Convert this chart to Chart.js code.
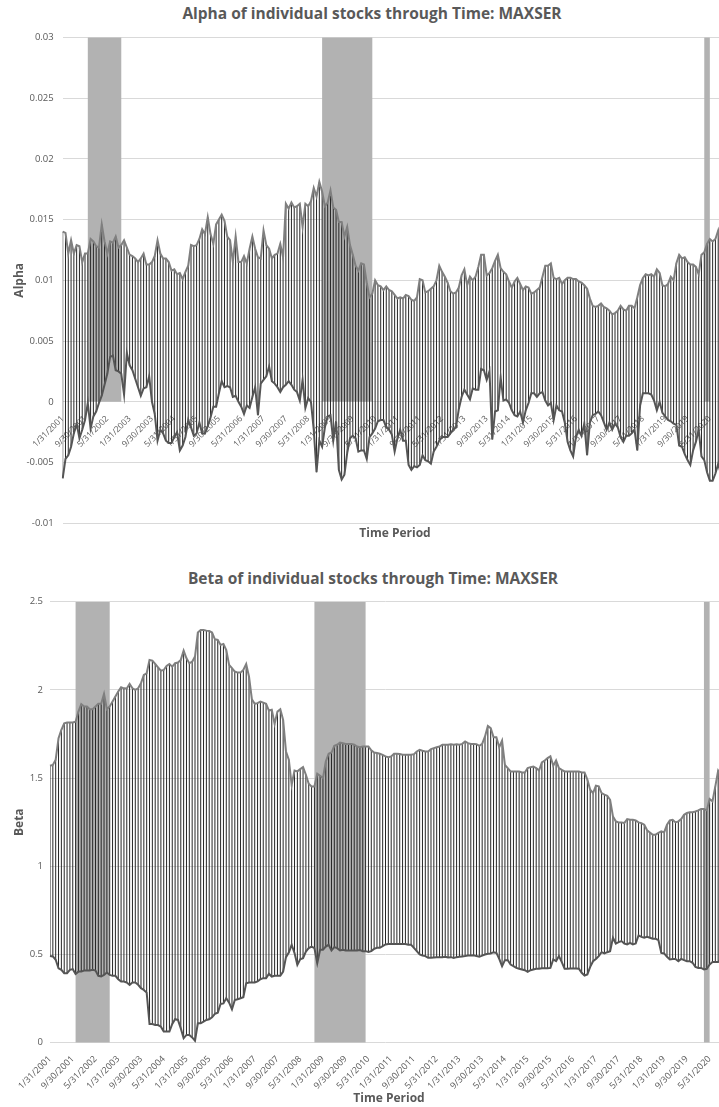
<!DOCTYPE html>
<html>
<head>
<meta charset="utf-8">
<script src="https://cdn.jsdelivr.net/npm/chart.js@4"></script>
<style>
  body { margin: 0; background: #fff; overflow: hidden; width: 719px; height: 1107px; position: relative; font-family: "Open Sans", sans-serif; }
  canvas { position: absolute; left: 0; }
  .lbl { position: absolute; text-align: center; color: #595959; font-weight: bold; white-space: nowrap; }
  .title { font-size: 15.5px; line-height: 20px; width: 500px; }
  .xtitle { font-size: 12px; line-height: 16px; width: 200px; }
</style>
</head>
<body>
<div class="lbl title" style="left:122px; top:3px">Alpha of individual stocks through Time: MAXSER</div>
<canvas id="alphaChart" width="722" height="545" style="top:0"></canvas>
<div class="lbl xtitle" style="left:295px; top:525px">Time Period</div>

<div class="lbl title" style="left:123px; top:568px">Beta of individual stocks through Time: MAXSER</div>
<canvas id="betaChart" width="722" height="559" style="top:548px"></canvas>
<div class="lbl xtitle" style="left:289px; top:1090px">Time Period</div>

<script>
// labelled ticks on the time axis (every 8th month)
const tickLabels = ['1/31/2001', '9/30/2001', '5/31/2002', '1/31/2003', '9/30/2003', '5/31/2004',
    '1/31/2005', '9/30/2005', '5/31/2006', '1/31/2007', '9/30/2007', '5/31/2008', '1/31/2009',
    '9/30/2009', '5/31/2010', '1/31/2011', '9/30/2011', '5/31/2012', '1/31/2013', '9/30/2013',
    '5/31/2014', '1/31/2015', '9/30/2015', '5/31/2016', '1/31/2017', '9/30/2017', '5/31/2018',
    '1/31/2019', '9/30/2019', '5/31/2020']

// recession periods as [first month index, month index after the end]
const recessions = [[9, 21], [93, 111], [230, 232]]

// highest / lowest alpha across the individual stocks, monthly from Jan 2001
const alphaHigh = [
    .0140, .0139, .0122, .0133, .0122, .0129, .0128, .0115, .0122, .0122,
    .0134, .0132, .0128, .0127, .0146, .0132, .0122, .0132, .0131, .0136,
    .0127, .0129, .0133, .0127, .0121, .0120, .0118, .0115, .0118, .0122,
    .0113, .0113, .0115, .0120, .0133, .0122, .0118, .0118, .0115, .0108,
    .0109, .0105, .0106, .0101, .0107, .0112, .0129, .0128, .0129, .0134,
    .0142, .0138, .0152, .0138, .0130, .0146, .0150, .0154, .0149, .0136,
    .0133, .0115, .0136, .0115, .0115, .0120, .0114, .0126, .0136, .0126,
    .0119, .0118, .0141, .0129, .0126, .0118, .0121, .0122, .0130, .0119,
    .0163, .0159, .0164, .0160, .0161, .0163, .0144, .0163, .0161, .0165,
    .0176, .0169, .0181, .0173, .0161, .0164, .0174, .0160, .0158, .0148,
    .0148, .0136, .0144, .0129, .0121, .0112, .0108, .0114, .0113, .0098,
    .0086, .0089, .0100, .0096, .0095, .0092, .0095, .0092, .0091, .0088,
    .0085, .0086, .0085, .0088, .0087, .0084, .0083, .0086, .0101, .0100,
    .0090, .0091, .0093, .0095, .0100, .0112, .0107, .0103, .0098, .0091,
    .0089, .0090, .0094, .0104, .0109, .0096, .0103, .0100, .0103, .0111,
    .0121, .0121, .0104, .0106, .0110, .0116, .0121, .0110, .0107, .0105,
    .0099, .0094, .0099, .0102, .0097, .0092, .0095, .0094, .0089, .0090,
    .0092, .0094, .0103, .0112, .0112, .0114, .0102, .0101, .0102, .0097,
    .0100, .0102, .0102, .0101, .0101, .0099, .0098, .0096, .0093, .0085,
    .0079, .0078, .0079, .0081, .0078, .0077, .0075, .0072, .0073, .0075,
    .0079, .0076, .0075, .0079, .0079, .0077, .0086, .0096, .0102, .0105,
    .0104, .0105, .0103, .0109, .0106, .0096, .0095, .0097, .0103, .0100,
    .0114, .0121, .0118, .0119, .0115, .0113, .0113, .0111, .0105, .0121,
    .0123, .0130, .0134, .0132, .0134, .0141, .0129]

const alphaLow = [
    -.0063, -.0047, -.0044, -.0037, -.0026, -.0018, -.0030, -.0023, -.0015, -.0001,
    -.0022, -.0012, -.0008, -.0001, .0005, .0014, .0023, .0037, .0038, .0026,
    .0025, .0023, .0006, .0040, .0030, .0026, .0019, .0012, .0005, .0011,
    .0012, .0021, .0000, -.0010, -.0032, -.0023, -.0026, -.0032, -.0034, -.0034,
    -.0029, -.0025, -.0040, -.0036, -.0029, -.0015, -.0021, -.0028, -.0026, -.0017,
    -.0026, -.0026, -.0020, -.0013, -.0004, -.0004, .0007, .0017, .0012, .0013,
    .0012, .0004, .0005, .0000, -.0004, -.0010, -.0003, -.0005, .0004, .0012,
    -.0011, .0015, .0018, .0021, .0029, .0017, .0015, .0012, .0008, .0012,
    .0014, .0017, .0014, .0010, .0008, .0001, .0018, -.0005, .0003, .0000,
    -.0023, -.0058, -.0032, -.0037, -.0021, -.0012, -.0011, -.0032, -.0016, -.0056,
    -.0064, -.0060, -.0042, -.0030, -.0028, -.0030, -.0041, -.0040, -.0040, -.0047,
    -.0029, -.0026, -.0022, -.0016, -.0015, -.0015, -.0021, -.0023, -.0027, -.0041,
    -.0030, -.0023, -.0032, -.0032, -.0052, -.0056, -.0053, -.0054, -.0052, -.0044,
    -.0048, -.0049, -.0051, -.0041, -.0037, -.0032, -.0029, -.0029, -.0029, -.0026,
    -.0023, -.0021, -.0006, .0004, .0010, .0006, .0002, .0011, .0010, .0010,
    .0027, .0026, .0018, .0025, -.0031, -.0008, -.0007, .0020, .0001, .0002,
    -.0001, -.0007, -.0011, -.0012, -.0008, -.0017, -.0007, -.0001, .0007, .0007,
    .0004, .0007, .0008, .0001, -.0003, -.0001, -.0015, -.0003, -.0007, -.0008,
    -.0017, -.0033, -.0040, -.0045, -.0029, -.0023, -.0028, -.0018, -.0044, -.0017,
    -.0011, -.0010, -.0008, -.0011, -.0017, -.0023, -.0017, -.0023, -.0018, -.0021,
    -.0029, -.0033, -.0028, -.0028, -.0026, -.0023, -.0040, -.0003, .0007, .0007,
    .0007, .0006, .0001, -.0007, .0000, -.0009, -.0012, -.0015, -.0016, -.0018,
    -.0019, -.0036, -.0037, -.0043, -.0048, -.0052, -.0040, -.0033, -.0023, -.0045,
    -.0048, -.0058, -.0065, -.0065, -.0059, -.0051, -.0060]

// highest / lowest beta across the individual stocks
const betaHigh = [
    1.570, 1.575, 1.604, 1.726, 1.774, 1.811, 1.815, 1.815, 1.815, 1.820,
    1.877, 1.919, 1.906, 1.906, 1.890, 1.890, 1.906, 1.921, 1.921, 1.977,
    1.890, 1.906, 1.934, 1.962, 1.991, 2.015, 2.009, 2.008, 2.034, 2.009,
    2.000, 2.009, 2.038, 2.085, 2.094, 2.170, 2.166, 2.147, 2.128, 2.109,
    2.113, 2.136, 2.147, 2.132, 2.151, 2.155, 2.170, 2.223, 2.179, 2.151,
    2.160, 2.189, 2.325, 2.340, 2.340, 2.336, 2.334, 2.325, 2.287, 2.283,
    2.255, 2.260, 2.226, 2.142, 2.123, 2.104, 2.098, 2.098, 2.113, 2.147,
    2.075, 1.947, 1.921, 1.925, 1.934, 1.928, 1.921, 1.883, 1.887, 1.808,
    1.877, 1.890, 1.830, 1.651, 1.604, 1.462, 1.543, 1.538, 1.551, 1.562,
    1.519, 1.468, 1.453, 1.453, 1.525, 1.513, 1.500, 1.594, 1.638, 1.645,
    1.683, 1.689, 1.702, 1.698, 1.694, 1.694, 1.694, 1.689, 1.679, 1.675,
    1.679, 1.679, 1.679, 1.657, 1.645, 1.642, 1.638, 1.632, 1.623, 1.619,
    1.623, 1.638, 1.638, 1.636, 1.632, 1.632, 1.632, 1.632, 1.636, 1.651,
    1.660, 1.655, 1.651, 1.651, 1.664, 1.670, 1.675, 1.679, 1.689, 1.689,
    1.689, 1.692, 1.689, 1.692, 1.689, 1.694, 1.708, 1.698, 1.694, 1.694,
    1.692, 1.683, 1.694, 1.736, 1.796, 1.783, 1.732, 1.732, 1.675, 1.713,
    1.575, 1.557, 1.538, 1.538, 1.538, 1.538, 1.532, 1.532, 1.557, 1.562,
    1.566, 1.557, 1.543, 1.589, 1.600, 1.613, 1.623, 1.570, 1.600, 1.557,
    1.547, 1.538, 1.538, 1.538, 1.538, 1.538, 1.538, 1.532, 1.532, 1.491,
    1.434, 1.415, 1.457, 1.453, 1.415, 1.406, 1.400, 1.377, 1.283, 1.255,
    1.249, 1.249, 1.245, 1.268, 1.264, 1.264, 1.260, 1.249, 1.245, 1.236,
    1.204, 1.192, 1.179, 1.179, 1.189, 1.198, 1.192, 1.236, 1.260, 1.264,
    1.249, 1.255, 1.268, 1.292, 1.302, 1.306, 1.306, 1.311, 1.317, 1.325,
    1.325, 1.317, 1.381, 1.368, 1.453, 1.543, 1.519]

const betaLow = [
    .492, .489, .470, .422, .413, .394, .394, .413, .417, .390,
    .403, .403, .409, .409, .409, .413, .409, .379, .375, .384,
    .398, .384, .379, .379, .360, .347, .347, .341, .328, .341,
    .341, .328, .309, .299, .284, .106, .106, .100, .100, .091,
    .063, .063, .063, .106, .133, .129, .081, .025, .044, .044,
    .030, .011, .110, .110, .119, .129, .133, .144, .163, .170,
    .220, .223, .252, .227, .189, .242, .246, .252, .258, .337,
    .341, .341, .341, .347, .360, .366, .366, .390, .375, .379,
    .379, .379, .403, .485, .511, .555, .508, .441, .473, .479,
    .517, .536, .545, .536, .451, .527, .527, .545, .555, .523,
    .542, .536, .523, .527, .523, .523, .523, .523, .523, .525,
    .519, .519, .515, .519, .532, .538, .538, .547, .557, .559,
    .559, .559, .559, .559, .559, .559, .555, .555, .538, .519,
    .500, .494, .491, .481, .481, .483, .485, .485, .485, .487,
    .483, .485, .481, .485, .487, .489, .491, .494, .494, .496,
    .491, .487, .494, .500, .504, .506, .513, .509, .475, .434,
    .468, .468, .443, .434, .424, .419, .415, .411, .402, .411,
    .415, .419, .419, .422, .422, .422, .424, .472, .462, .491,
    .457, .419, .419, .421, .421, .421, .419, .396, .381, .387,
    .430, .462, .475, .491, .513, .506, .513, .519, .595, .562,
    .570, .576, .562, .557, .566, .557, .562, .608, .600, .595,
    .600, .595, .589, .589, .581, .509, .506, .487, .472, .475,
    .475, .462, .475, .468, .462, .462, .453, .430, .424, .424,
    .415, .419, .443, .457, .457, .457, .475]

// month-end dates for every observation
const months = alphaHigh.map((v, i) => {
    const y = 2001 + Math.floor(i / 12)
    const m = i % 12 + 1
    return m + '/' + new Date(y, m, 0).getDate() + '/' + y
})

const textColor = '#595959'
const gridColor = '#d9d9d9'
const fontFamily = "'Open Sans', sans-serif"

function recessionBand(top) {
    return months.map((m, i) => recessions.some(r => i >= r[0] && i < r[1]) ? top : 0)
}

function buildDatasets(high, low, bandTop) {
    return [
        {
            // shaded recession months
            type: 'line',
            data: recessionBand(bandTop),
            stepped: true,
            borderWidth: 0,
            pointRadius: 0,
            fill: 'origin',
            backgroundColor: '#b2b2b2',
            order: 4
        },
        {
            // high-low line for each month
            type: 'bar',
            data: low.map((l, i) => [l, high[i]]),
            backgroundColor: '#262626',
            barThickness: 1,
            inflateAmount: 0,
            order: 3
        },
        {
            type: 'line',
            data: high,
            borderColor: '#7f7f7f',
            borderWidth: 2,
            pointRadius: 0,
            fill: false,
            order: 2
        },
        {
            type: 'line',
            data: low,
            borderColor: '#555555',
            borderWidth: 2,
            pointRadius: 0,
            fill: false,
            order: 1
        }
    ]
}

function xTicks(padding, size) {
    return {
        autoSkip: false,
        maxRotation: 45,
        minRotation: 45,
        padding: padding,
        color: textColor,
        font: { family: fontFamily, size: size },
        callback: function (value) {
            const lab = this.getLabelForValue(value)
            return tickLabels.includes(lab) ? lab : null
        }
    }
}

function yScale(min, max, step, title, width, tickPad) {
    return {
        min: min,
        max: max,
        ticks: {
            stepSize: step,
            padding: tickPad,
            color: textColor,
            font: { family: fontFamily, size: 9.5 },
            callback: v => String(+v.toFixed(3))
        },
        grid: { color: gridColor, drawTicks: false },
        border: { display: false },
        title: {
            display: true,
            text: title,
            color: textColor,
            font: { family: fontFamily, size: 12, weight: 'bold' },
            padding: { top: 12, bottom: 0 }
        },
        afterFit: s => { s.width = width }
    }
}

const common = {
    responsive: false,
    animation: false,
    devicePixelRatio: 1,
    plugins: { legend: { display: false }, tooltip: { enabled: false } }
}

new Chart(document.getElementById('alphaChart'), {
    data: { labels: months, datasets: buildDatasets(alphaHigh, alphaLow, 0.03) },
    options: {
        ...common,
        layout: { padding: { top: 37.3, bottom: 21.7, left: 0, right: 1 } },
        scales: {
            x: {
                type: 'category',
                offset: false,
                position: { y: 0 },
                grid: { display: false },
                border: { display: false },
                ticks: xTicks(4, 8.5),
                afterFit: s => { s.height = 0 }
            },
            y: yScale(-0.01, 0.03, 0.005, 'Alpha', 62.7, 9)
        }
    }
})

new Chart(document.getElementById('betaChart'), {
    data: { labels: months, datasets: buildDatasets(betaHigh, betaLow, 2.5) },
    options: {
        ...common,
        layout: { padding: { top: 53.7, bottom: 0, left: 0, right: 1 } },
        scales: {
            x: {
                type: 'category',
                offset: false,
                grid: { display: false },
                border: { display: false },
                ticks: xTicks(3, 9),
                afterFit: s => { s.height = 64.3 }
            },
            y: yScale(0, 2.5, 0.5, 'Beta', 50, 7)
        }
    }
})
</script>
</body>
</html>
